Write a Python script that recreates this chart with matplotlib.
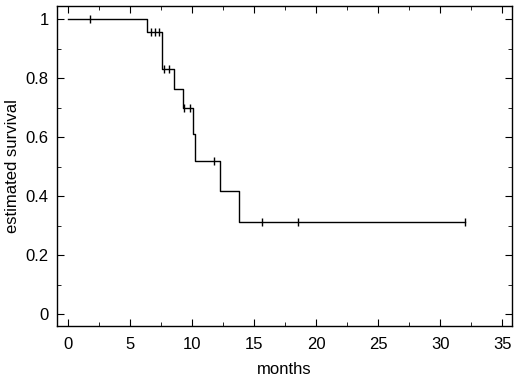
import matplotlib
matplotlib.use('Agg')
import matplotlib.pyplot as plt
import numpy as np

plt.rcParams['font.family'] = ['Liberation Sans', 'DejaVu Sans']

# step times (months) and survival level after each step
step_t = [0, 6.4, 7.6, 8.55, 9.3, 10.1, 10.25, 12.25, 13.8, 32.0]
step_s = [1.0, 0.955, 0.83, 0.763, 0.698, 0.61, 0.519, 0.417, 0.312, 0.312]

# censored observations
cens_t = [1.75, 6.65, 7.0, 7.3, 7.75, 8.1, 9.35, 9.8, 11.8, 15.6, 18.5, 32.0]

def surv_at(t):
    idx = np.searchsorted(step_t, t, side='right') - 1
    return np.array(step_s)[idx]

fig = plt.figure(figsize=(5.2, 3.78), dpi=100)
ax = fig.add_axes([0.1096, 0.1376, 0.875, 0.8465])

ax.step(step_t, step_s, where='post', color='black', lw=1.0)
ax.plot(cens_t, surv_at(np.array(cens_t)), ls='none', marker='|',
        color='black', ms=6, mew=1.0)

ax.set_xlim(-0.9, 35.8)
ax.set_ylim(-0.04, 1.044)
ax.set_xticks(np.arange(0, 36, 5))
ax.set_xticks(np.arange(0, 36, 2.5), minor=True)
ax.set_yticks([0, 0.2, 0.4, 0.6, 0.8, 1])
ax.set_yticklabels(['0', '0.2', '0.4', '0.6', '0.8', '1'])
ax.set_yticks(np.arange(0, 1.01, 0.1), minor=True)
ax.tick_params(which='both', direction='in', top=True, right=True, labelsize=12)
ax.tick_params(which='major', length=5, pad=6)
ax.tick_params(axis='x', which='major', pad=8)
ax.tick_params(which='minor', length=3)
for sp in ax.spines.values():
    sp.set_linewidth(1.0)

ax.set_xlabel('months', fontsize=12, labelpad=7)
ax.set_ylabel('estimated survival', fontsize=12, labelpad=4)

fig.savefig('out.png', dpi=100)
